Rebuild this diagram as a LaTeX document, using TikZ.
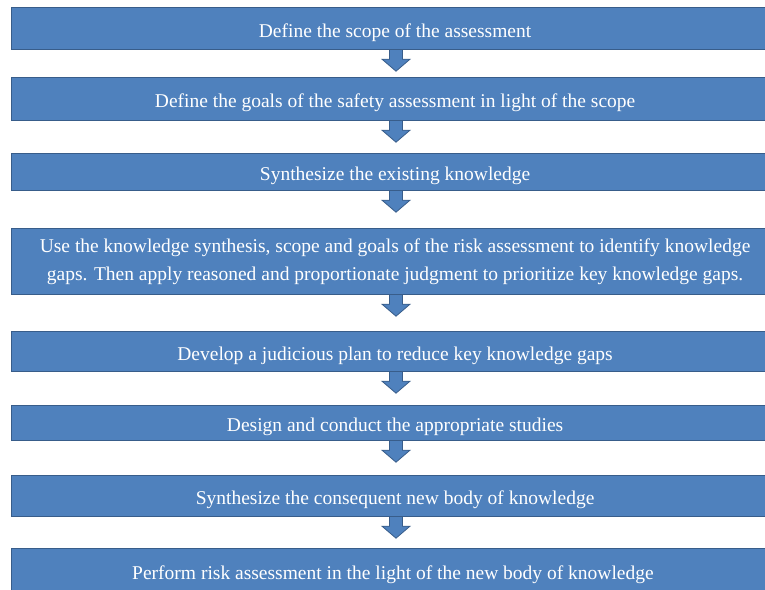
\documentclass[tikz,border=0pt]{standalone}
\usepackage{fontspec}
\setmainfont{Liberation Serif}
\usetikzlibrary{calc}
\definecolor{boxfill}{HTML}{4F81BD}
\definecolor{boxline}{HTML}{385D8A}
\tikzset{
  stepbox/.style={draw=boxline, line width=1.2pt, fill=boxfill, text=white,
    font=\fontsize{19.5}{28}\selectfont, align=center, inner sep=0pt, anchor=north west},
  oneline/.style={text height=19pt, text depth=2pt},
  steptext/.style={text=white, font=\fontsize{19.5}{28}\selectfont},
  blockarrow/.style={draw=boxline, line width=0.8pt, fill=boxfill, line join=miter},
}
\newcommand{\mkbox}[5][oneline]{% style, name, top, bottom, text
  \node[stepbox, #1, minimum width=768pt, minimum height={#4pt-#3pt}] (#2) at (10.5pt,-#3pt) {#5};}
\newcommand{\mkarrow}[2]{% from, to
  \draw[blockarrow] ($(#1.south west)+(379pt,0)$) -- ++(0,-9pt) -- ++(-7.5pt,0)
     -- ($(#1.south west)+(385.5pt,-21pt)$)
     -- ++(14pt,12pt) -- ++(-7.5pt,0) -- ++(0,9pt);
}
\begin{document}
\begin{tikzpicture}[x=1pt,y=1pt]
\useasboundingbox (0,0) rectangle (765,-589);
\clip (0,0) rectangle (765,-589);
\mkbox{b1}{7}{49}{Define the scope of the assessment}
\mkbox{b2}{77}{120}{Define the goals of the safety assessment in light of the scope}
\mkbox{b3}{153}{190}{Synthesize the existing knowledge}
\mkbox[]{b4}{228}{294}{Use the knowledge synthesis, scope and goals of the risk assessment to identify knowledge\\gaps. Then apply reasoned and proportionate judgment to prioritize key knowledge gaps.}
\mkbox{b5}{331}{371}{Develop a judicious plan to reduce key knowledge gaps}
\mkbox{b6}{405}{440}{Design and conduct the appropriate studies}
\mkbox{b7}{475}{516}{Synthesize the consequent new body of knowledge}
\mkbox{b8}{548}{600}{}
\node[steptext, anchor=base] (t8) at (393,-579) {Perform risk assessment in the light of the new body of knowledge};
\mkarrow{b1}{b2}
\mkarrow{b2}{b3}
\mkarrow{b3}{b4}
\mkarrow{b4}{b5}
\mkarrow{b5}{b6}
\mkarrow{b6}{b7}
\mkarrow{b7}{b8}
\end{tikzpicture}
\end{document}
